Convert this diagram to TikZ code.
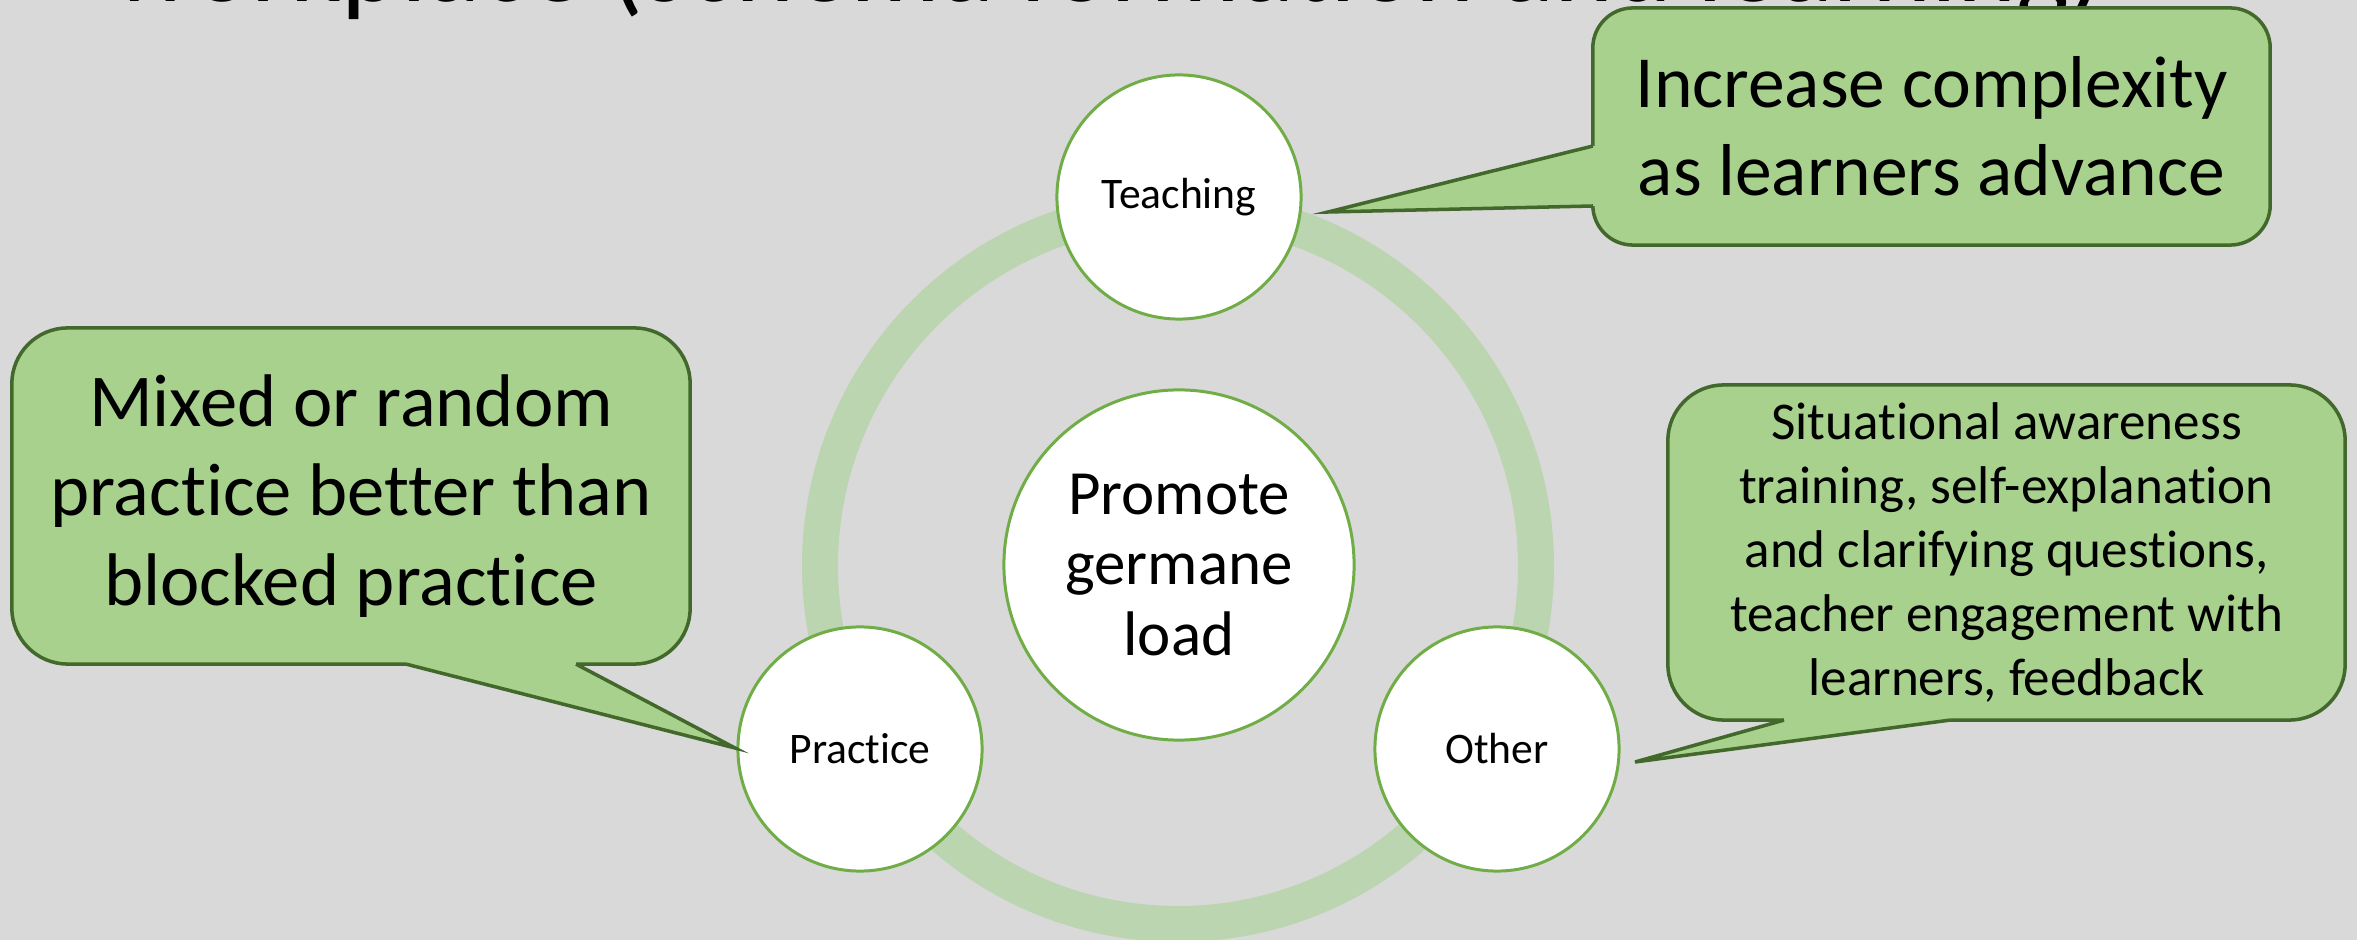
\documentclass[tikz,border=0pt]{standalone}
\usepackage{fontspec}
\setmainfont{Carlito}[Ligatures=NoCommon]
\usetikzlibrary{calc}

\definecolor{slidegray}{HTML}{D9D9D9}
\definecolor{notegreen}{HTML}{A9D18E}
\definecolor{noteedge}{HTML}{43682B}
\definecolor{rimgreen}{HTML}{70AD47}
\definecolor{ringgreen}{HTML}{BCD5B1}

\begin{document}
\begin{tikzpicture}[x=0.01cm, y=-0.01cm,
    bubble/.style={circle, draw=rimgreen, line width=0.85pt, fill=white,
      minimum size=2.44cm, inner sep=0pt, align=center, font=\fontsize{12.4}{14}\selectfont},
    note/.style={rectangle, draw=noteedge, line width=1pt, fill=notegreen,
      inner sep=0pt, outer sep=0pt, align=center},
    tail/.style={draw=noteedge, line width=1pt, line join=miter}]

  % Page
  \useasboundingbox (0,0) rectangle (2357,940);
  \fill[slidegray] (0,0) rectangle (2357,940);
  \clip (0,0) rectangle (2357,940);
  \node[anchor=base west, inner sep=0pt, font=\fontsize{32}{38}\selectfont] (title)
    at (112,2) {workplace (schema formation and learning)};

  % Draw ring
  \draw[ringgreen, line width=0.36cm] (1178,566) circle (358);

  % Draw circles
  \node[bubble, minimum size=3.5cm, font=\fontsize{17.9}{20}\selectfont] (load)
    at (1179,565) {Promote\\germane\\load};
  \node[bubble] (teach) at (1179,197) {Teaching};
  \node[bubble] (practice) at (860,749) {Practice};
  \node[bubble] (other) at (1497,749) {Other};

  % Draw callouts
  \node[note, minimum width=6.77cm, minimum height=2.37cm, rounded corners=0.4cm,
    font=\fontsize{20.9}{25}\selectfont] (noteT) at (1931.5,126.5)
    {Increase complexity\\as learners advance};
  \coordinate (tipT) at (1328,212);
  \fill[notegreen] ($(noteT.west)+(4,19.5)$) -- ($(noteT.west)+(0,19.5)$) -- (tipT)
    -- ($(noteT.west)+(0,79.5)$) -- ($(noteT.west)+(4,79.5)$) -- cycle;
  \draw[tail] ($(noteT.west)+(0,19.5)$) -- (tipT) -- ($(noteT.west)+(0,79.5)$);

  \node[note, minimum width=6.78cm, minimum height=3.36cm, rounded corners=0.56cm,
    font=\fontsize{21.2}{25.5}\selectfont] (noteP) at (351,496)
    {Mixed or random\\practice better than\\blocked practice};
  \coordinate (tipP) at (735,748);
  \fill[notegreen] ($(noteP.south)+(55,-4)$) -- ($(noteP.south)+(55,0)$) -- (tipP)
    -- ($(noteP.south)+(225,0)$) -- ($(noteP.south)+(225,-4)$) -- cycle;
  \draw[tail] ($(noteP.south)+(55,0)$) -- (tipP) -- ($(noteP.south)+(225,0)$);

  \node[note, minimum width=6.77cm, minimum height=3.35cm, rounded corners=0.56cm,
    font=\fontsize{15.1}{18.2}\selectfont] (noteO) at (2006.5,552.5)
    {Situational awareness\\training, self-explanation\\and clarifying questions,\\teacher engagement with\\learners, feedback};
  \coordinate (tipO) at (1635,762);
  \fill[notegreen] ($(noteO.south)+(-222.5,-4)$) -- ($(noteO.south)+(-222.5,0)$) -- (tipO)
    -- ($(noteO.south)+(-56.5,0)$) -- ($(noteO.south)+(-56.5,-4)$) -- cycle;
  \draw[tail] ($(noteO.south)+(-222.5,0)$) -- (tipO) -- ($(noteO.south)+(-56.5,0)$);
\end{tikzpicture}
\end{document}
